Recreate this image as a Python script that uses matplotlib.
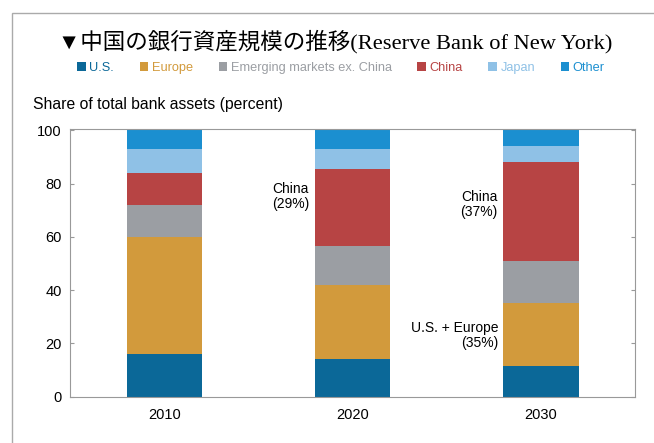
import numpy as np
import matplotlib
matplotlib.use('Agg')
import matplotlib.pyplot as plt
from matplotlib.patches import Rectangle

plt.rcParams['font.family'] = ['Liberation Sans', 'DejaVu Sans']

# share of total bank assets, percent
years = ['2010', '2020', '2030']
us = [16, 14, 11.5]
europe = [44, 28, 23.5]
emerging = [12, 14.5, 16]
china = [12, 29, 37]
japan = [9, 7.5, 6]
other = [7, 7, 6]

series = ['U.S.', 'Europe', 'Emerging markets ex. China', 'China', 'Japan', 'Other']
colors = ['#0b6898', '#d29a3c', '#9b9ea3', '#b74444', '#8fc1e6', '#1b8fd0']

fig = plt.figure(figsize=(6.54, 4.43), dpi=100)
ax = fig.add_axes([70/654, 1-396.5/443, (635-70)/654, (396.5-129)/443])

x = np.arange(len(years))
bottom = np.zeros(len(years))
handles = []
for vals, c, name in zip([us, europe, emerging, china, japan, other], colors, series):
    b = ax.bar(x, vals, width=0.4, bottom=bottom, color=c, label=name, linewidth=0)
    handles.append(b)
    bottom += np.array(vals)

ax.set_xlim(-0.5, 2.5)
ax.set_ylim(0, 100.5)
ax.set_yticks([0, 20, 40, 60, 80, 100])
ax.set_xticks(x)
ax.set_xticklabels(years)
ax.tick_params(axis='y', direction='in', length=3, color='#999999', right=True,
               labelsize=10.5, pad=6)
ax.tick_params(axis='x', length=0, labelsize=10.5, pad=8)
for s in ax.spines.values():
    s.set_color('#999999')
    s.set_linewidth(0.8)

# labels beside the bars
china_2020 = china[1]
china_2030 = china[2]
useu_2030 = us[2] + europe[2]
ax.text(0.67, 75, 'China\n(%d%%)' % china_2020, ha='center', va='center',
        fontsize=10, linespacing=1.1)
ax.text(1.673, 72.2, 'China\n(%d%%)' % china_2030, ha='center', va='center',
        fontsize=10, linespacing=1.1)
ax.text(1.775, 22.9, 'U.S. + Europe\n(%d%%)' % round(useu_2030), ha='right', va='center',
        fontsize=10, linespacing=1.1)

fig.text(33/654, 1-105/443, 'Share of total bank assets (percent)', fontsize=11.3,
         va='center', ha='left')

fig.text(335/654, 1-42/443, '▼中国の銀行資産規模の推移(Reserve Bank of New York)',
         ha='center', va='center', fontsize=16.2,
         family=['Liberation Serif', 'Noto Sans CJK JP'])

leg = fig.legend(handles=handles, labels=series, loc='center', ncol=6,
                 bbox_to_anchor=(341/654, 1-68/443), frameon=False, fontsize=9.2,
                 handlelength=0.65, handleheight=0.65, handletextpad=0.3,
                 columnspacing=2.0)
for t, c in zip(leg.get_texts(), colors):
    t.set_color(c)

# outer frame
fig.patches.append(Rectangle((12/654, -0.05), 1.0, 1-13/443+0.05,
                             transform=fig.transFigure, fill=False,
                             edgecolor='#aaaaaa', linewidth=1.0))

fig.savefig('out.png', dpi=100)
